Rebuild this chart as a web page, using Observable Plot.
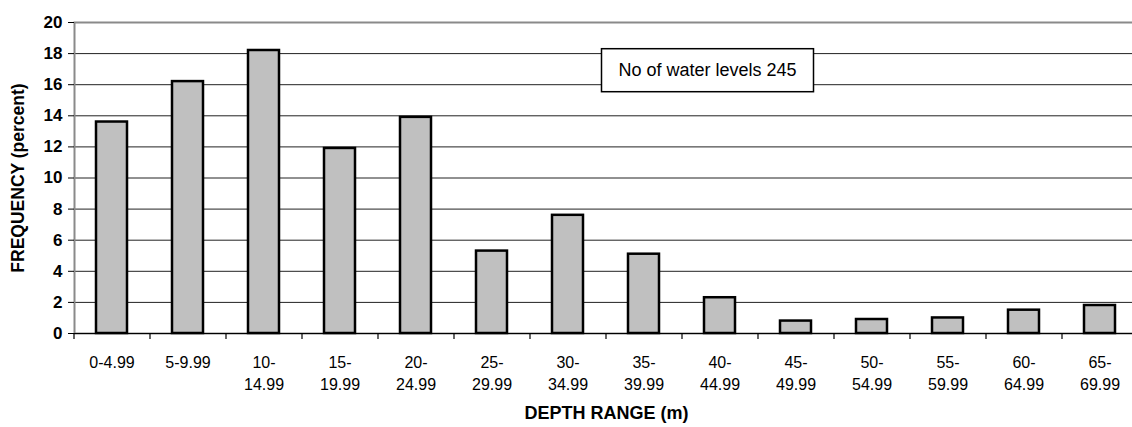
<!DOCTYPE html>
<html>
<head>
<meta charset="utf-8">
<script src="https://cdn.jsdelivr.net/npm/d3@7"></script>
<script src="https://cdn.jsdelivr.net/npm/@observablehq/plot@0.6"></script>
<style>
  html, body { margin: 0; padding: 0; background: #fff; }
  #chart svg { display: block; font-family: Arial, "Liberation Sans", sans-serif; overflow: hidden; }
</style>
</head>
<body>
<div id="chart"></div>
<script>
const categories = ["0-4.99", "5-9.99", "10-14.99", "15-19.99", "20-24.99", "25-29.99", "30-34.99",
  "35-39.99", "40-44.99", "45-49.99", "50-54.99", "55-59.99", "60-64.99", "65-69.99"];
const frequency = [13.6, 16.2, 18.2, 11.9, 13.9, 5.3, 7.6, 5.1, 2.3, 0.8, 0.9, 1.0, 1.5, 1.8];
const yTicks = [0, 2, 4, 6, 8, 10, 12, 14, 16, 18, 20];
const gridTicks = [2, 4, 6, 8, 10, 12, 14, 16, 18];
const xTitle = "DEPTH RANGE (m)";
const yTitle = "FREQUENCY (percent)";
const annoLabel = "No of water levels 245";
const annoCategory = "40-44.99";
const annoValue = 16.9;

const data = categories.map((c, i) => ({category: c, value: frequency[i]}));

function fmtCat(c) {
  if (c.length <= 6) return c;
  const k = c.indexOf("-");
  return c.slice(0, k + 1) + "\n" + c.slice(k + 1);
}

function annotationMark(index, scales, values, dims) {
  const x = scales.x(annoCategory) + scales.x.bandwidth() / 2 - 12;
  const y = scales.y(annoValue);
  const w = 212, h = 43;
  const g = d3.create("svg:g");
  g.append("rect")
    .attr("x", x - w / 2).attr("y", y - h / 2)
    .attr("width", w).attr("height", h)
    .attr("fill", "#fff").attr("stroke", "#000").attr("stroke-width", 1.5);
  g.append("text")
    .attr("x", x).attr("y", y)
    .attr("text-anchor", "middle").attr("dominant-baseline", "central")
    .attr("font-size", 18).attr("fill", "#000")
    .text(annoLabel);
  return g.node();
}

const step = 76, bw = 31;
const pInner = 1 - bw / step;

const chart = Plot.plot({
  width: 1132,
  height: 427,
  marginLeft: 74,
  marginRight: -6,
  marginTop: 22,
  marginBottom: 94,
  x: {domain: categories, paddingInner: pInner, paddingOuter: pInner / 2, align: 0.5},
  y: {domain: [0, 20]},
  marks: [
    Plot.gridY(gridTicks, {stroke: "#222", strokeOpacity: 1, strokeWidth: 1}),
    Plot.frame({stroke: "#8a8a8a", strokeWidth: 2}),
    Plot.barY(data, {x: "category", y: "value", fill: "#c0c0c0", stroke: "#000", strokeWidth: 2.5}),
    Plot.ruleY([0], {stroke: "#000", strokeWidth: 1.2}),
    Plot.ruleX(categories, {x: d => d, y1: 0, y2: -0.38, dx: -step / 2, stroke: "#000", strokeWidth: 1.2}),
    Plot.axisY(yTicks, {tickSize: 6, tickPadding: 6, fontSize: 17, fontWeight: "bold", fill: "#000", label: null}),
    Plot.axisX({tickSize: 0, tickPadding: 18, fontSize: 16, lineHeight: 1.42, tickFormat: fmtCat, fill: "#000", label: null}),
    Plot.text([yTitle], {frameAnchor: "left", rotate: -90, dx: -56, textAnchor: "middle", fontSize: 17.5, fontWeight: "bold", fill: "#000"}),
    Plot.text([xTitle], {frameAnchor: "bottom", dy: 85, textAnchor: "middle", fontSize: 18, fontWeight: "bold", fill: "#000"}),
    annotationMark
  ]
});
document.getElementById("chart").appendChild(chart);
</script>
</body>
</html>
